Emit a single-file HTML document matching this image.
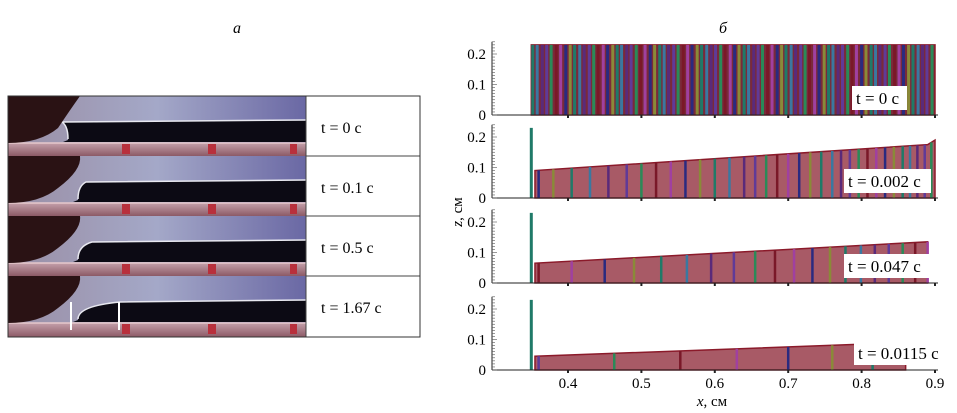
<!DOCTYPE html>
<html><head><meta charset="utf-8"><style>
body{margin:0;background:#fff;width:957px;height:413px;overflow:hidden;font-family:"Liberation Serif",serif}
svg{display:block}
svg text{font-family:"Liberation Serif",serif}
</style></head><body>
<svg id="fig" width="957" height="413" viewBox="0 0 957 413" xmlns="http://www.w3.org/2000/svg">
<defs>
<linearGradient id="bg" x1="0" x2="1" y1="0" y2="0"><stop offset="0" stop-color="#9a8ea4"/><stop offset="0.5" stop-color="#a4a8c8"/><stop offset="1" stop-color="#6a68a4"/></linearGradient>
<linearGradient id="fl" x1="0" x2="0" y1="0" y2="1"><stop offset="0" stop-color="#c4a0aa"/><stop offset="1" stop-color="#8c5a66"/></linearGradient>
</defs>
<text x="237" y="33" font-size="16" font-style="italic" text-anchor="middle">а</text>
<text x="723" y="33" font-size="16" font-style="italic" text-anchor="middle">б</text>
<g id="photos"></g>
<g id="chart"></g>
<text transform="translate(462,212) rotate(-90)" font-size="15" text-anchor="middle"><tspan font-style="italic">z</tspan>, см</text>
<text x="712" y="406" font-size="15" text-anchor="middle"><tspan font-style="italic">x</tspan>, см</text>
</svg>
<script>
const NS='http://www.w3.org/2000/svg';
function mk(p,t,a){const e=document.createElementNS(NS,t);for(const k in a)e.setAttribute(k,a[k]);p.appendChild(e);return e;}
// ---- photos (panel a)
const photoLabels=['t = 0 с','t = 0.1 с','t = 0.5 с','t = 1.67 с'];
const photoG=document.getElementById('photos');
const rowY=[96,156,216,276];
photoLabels.forEach((lab,i)=>{
  const y=rowY[i],h=(i==3?61:60);
  const g=mk(photoG,'g',{});
  
  
  mk(g,'rect',{x:8,y:y,width:298,height:h,fill:'url(#bg)'});
  const bx=[68,78,78,78][i], bend=[62,86,92,120][i];
  mk(g,'path',{d:`M${bx} ${y+44} Q${bx} ${y+30} ${bend} ${y+26} L306 ${y+24} L306 ${y+46} L${bx-5} ${y+46} Z`,fill:'#0c0a14'});
  mk(g,'path',{d:`M${bx} ${y+43} Q${bx} ${y+30} ${bend} ${y+26} L306 ${y+24}`,fill:'none',stroke:'#e8e8f0','stroke-width':1.5});
  mk(g,'rect',{x:8,y:y+47,width:298,height:h-47,fill:'url(#fl)'});
  mk(g,'line',{x1:8,y1:y+47,x2:306,y2:y+47,stroke:'#e6c8cc','stroke-width':1.5});
  mk(g,'path',{d:`M8 ${y} L8 ${y+47} Q40 ${y+47} 58 ${y+32} Q${i?82:70} ${y+14} 80 ${y} Z`,fill:'#2a1214'});
  [[122,8],[208,8],[290,7]].forEach(r=>mk(g,'rect',{x:r[0],y:y+48,width:r[1],height:10,fill:'#b8303c'}));
  mk(g,'rect',{x:306,y:y,width:114,height:h,fill:'#fff',stroke:'#444','stroke-width':1});
  const t=mk(g,'text',{x:321,y:y+37,'font-size':16});t.textContent=lab;
  
  
});
mk(photoG,'line',{x1:71,y1:302,x2:71,y2:330,stroke:'#fff','stroke-width':2});
mk(photoG,'line',{x1:119,y1:302,x2:119,y2:330,stroke:'#fff','stroke-width':2});
mk(photoG,'rect',{x:8,y:96,width:412,height:241,fill:'none',stroke:'#333','stroke-width':1});

// ---- chart data (panel b)
const xTicks=[0.4,0.5,0.6,0.7,0.8,0.9];
const yTicks=[0,0.1,0.2];
const timeLabels=['t = 0 с','t = 0.002 с','t = 0.047 с','t = 0.0115 с'];
const wallX=0.35, wallH=0.23;
const surfX=[[0.35,0.9],[0.355,0.89,0.9],[0.355,0.89],[0.355,0.86]];
const surfZ=[[0.23,0.23],[0.09,0.175,0.19],[0.065,0.135],[0.045,0.09]];
const stripes0=[0.352,0.358,0.365,0.371,0.377,0.384,0.390,0.397,0.403,0.409,0.416,0.422,0.429,0.435,0.441,0.448,0.454,0.461,0.467,0.473,0.480,0.486,0.493,0.499,0.505,0.512,0.518,0.525,0.531,0.537,0.544,0.550,0.557,0.563,0.569,0.576,0.582,0.589,0.595,0.601,0.608,0.614,0.621,0.627,0.633,0.640,0.646,0.653,0.659,0.665,0.672,0.678,0.685,0.691,0.697,0.704,0.710,0.717,0.723,0.729,0.736,0.742,0.749,0.755,0.761,0.768,0.774,0.781,0.787,0.793,0.800,0.806,0.813,0.819,0.825,0.832,0.838,0.845,0.851,0.857,0.864,0.870,0.877,0.883,0.889,0.896];
const stripes1=[0.36,0.38,0.405,0.43,0.455,0.48,0.50,0.52,0.54,0.56,0.58,0.60,0.62,0.64,0.655,0.67,0.685,0.70,0.715,0.73,0.745,0.76,0.772,0.784,0.796,0.808,0.82,0.832,0.844,0.856,0.866,0.876,0.886,0.895];
const stripes2=[0.36,0.405,0.45,0.49,0.527,0.562,0.595,0.626,0.655,0.682,0.708,0.733,0.757,0.778,0.799,0.818,0.837,0.856,0.873,0.89];
const stripes3=[0.36,0.463,0.553,0.63,0.70,0.76,0.815];
const stripeSets=[stripes0,stripes1,stripes2,stripes3];
const palette=['#1f7a68','#2a2a80','#7a1828','#603a98','#3a78a0','#8a8a38','#a040a0','#2a8a58','#5a2a7a'];
// layout
const zeroY=[115,198,283,370], unitY=305;
const X=v=>568+(v-0.4)*734;
const chart=document.getElementById('chart');
function interp(xs,zs,x){for(let i=0;i<xs.length-1;i++){if(x<=xs[i+1])return zs[i]+(zs[i+1]-zs[i])*(x-xs[i])/(xs[i+1]-xs[i]);}return zs[zs.length-1];}
zeroY.forEach((z0,p)=>{
  const Y=v=>z0-v*unitY;
  const g=mk(chart,'g',{});
  
  
  const xs=surfX[p],zs=surfZ[p];
  let d=`M${X(xs[0])} ${Y(0)}`;xs.forEach((x,i)=>d+=` L${X(x)} ${Y(zs[i])}`);d+=` L${X(xs[xs.length-1])} ${Y(0)} Z`;
  const area=mk(g,'path',{d:d,fill:p==0?'#7a2a3a':'#a85a66',stroke:'#8b1a2a','stroke-width':1.5});
  
  
  stripeSets[p].forEach((sx,i)=>{
    const s=mk(g,'line',{x1:X(sx),x2:X(sx),y1:Y(0),y2:Y(interp(xs,zs,sx)),stroke:palette[(i*4+p)%palette.length],'stroke-width':p==0?3:2.5});
    
    
  });
  if(p>0){const w=mk(g,'line',{x1:X(wallX),x2:X(wallX),y1:Y(0),y2:Y(wallH),stroke:'#1f7a68','stroke-width':3});
    
    }
  mk(g,'line',{x1:492,x2:938,y1:z0,y2:z0,stroke:'#222','stroke-width':1});
  mk(g,'line',{x1:492,x2:492,y1:z0,y2:Y(0.24),stroke:'#222','stroke-width':1});
  for(let k=0;k<=24;k++)mk(g,'line',{x1:492,x2:k%10==0?497:495,y1:Y(k/100),y2:Y(k/100),stroke:'#555','stroke-width':0.6});
  xTicks.forEach(t=>mk(g,'line',{x1:X(t),x2:X(t),y1:z0,y2:z0+3,stroke:'#222','stroke-width':2}));
  yTicks.forEach(t=>{const tx=mk(g,'text',{x:486,y:Y(t)+5,'font-size':15,'text-anchor':'end'});tx.textContent=String(t);
    
    });
  const lw=[55,87,87,92][p], lx=[852,844,844,854][p];
  mk(g,'rect',{x:lx,y:z0-29,width:lw,height:24,fill:'#fff'});
  const lt=mk(g,'text',{x:lx+4,y:z0-11,'font-size':17});lt.textContent=timeLabels[p];
  
  
});
xTicks.forEach(t=>{const tx=mk(chart,'text',{x:X(t),y:388,'font-size':15,'text-anchor':'middle'});tx.textContent=String(t);
  
  });
</script>
</body></html>
